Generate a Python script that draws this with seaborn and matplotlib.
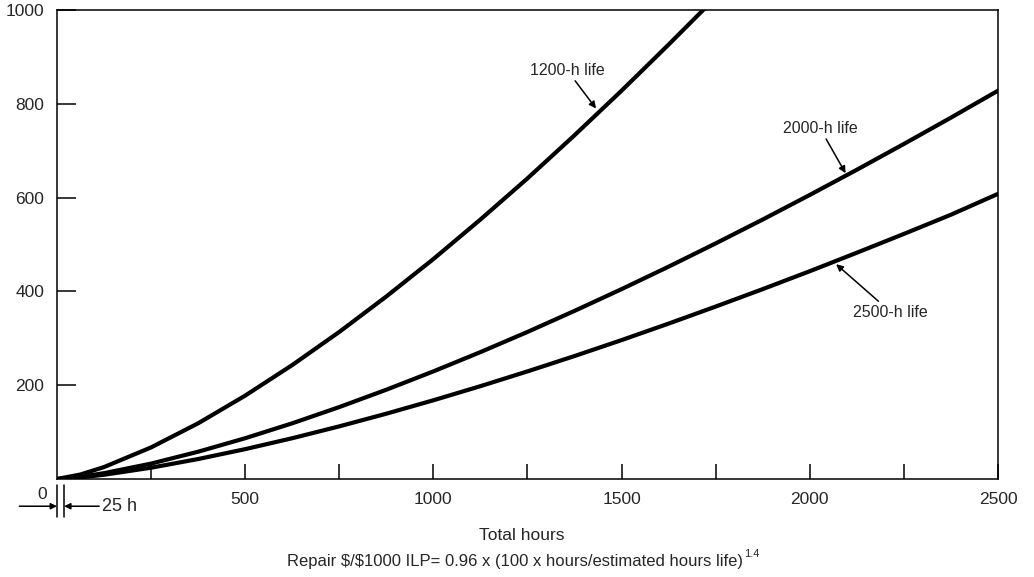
import matplotlib
matplotlib.use("Agg")
import matplotlib.pyplot as plt
import matplotlib.transforms as mtransforms
import seaborn as sns
import pandas as pd

# values (repair $ per $1000 ILP vs total hours)
hours = [0, 62, 125, 250, 375, 500, 625, 750, 875, 1000, 1125, 1250, 1375,
         1500, 1625, 1750, 1875, 2000, 2125, 2250, 2375, 2500]
hours_1200 = [0, 62, 125, 250, 375, 500, 625, 750, 875, 1000, 1125, 1250, 1375,
              1500, 1625, 1750]
repair_1200 = [0, 9.6, 25.5, 67.4, 118.8, 177.8, 243.0, 313.6, 389.2, 469.0,
               553.3, 641.0, 733.0, 828.0, 926.3, 1026.8]
repair_2000 = [0, 4.7, 12.5, 32.9, 58.2, 87.0, 118.8, 153.4, 190.4, 229.5,
               270.6, 313.6, 358.5, 404.9, 452.8, 502.4, 553.3, 605.7, 659.4,
               714.4, 770.5, 828.0]
repair_2500 = [0, 3.4, 9.1, 24.1, 42.6, 63.7, 87.0, 112.3, 139.3, 167.9,
               198.0, 229.5, 262.2, 296.2, 331.4, 367.7, 404.9, 443.1, 482.5,
               522.6, 563.5, 608.0]
life_labels = ["1200-h life", "2000-h life", "2500-h life"]
x_ticks = [500, 1000, 1500, 2000, 2500]
y_ticks = [200, 400, 600, 800, 1000]

df = pd.concat([
    pd.DataFrame({"hours": hours_1200, "repair": repair_1200, "life": life_labels[0]}),
    pd.DataFrame({"hours": hours, "repair": repair_2000, "life": life_labels[1]}),
    pd.DataFrame({"hours": hours, "repair": repair_2500, "life": life_labels[2]}),
])

sns.set_style("white")
plt.rcParams["font.family"] = ["Liberation Sans", "DejaVu Sans"]

fig = plt.figure(figsize=(10.34, 5.77), dpi=100)
ax = fig.add_axes([0.0551, 0.1698, 0.9101, 0.8129])

sns.lineplot(data=df, x="hours", y="repair", hue="life", estimator=None,
             palette=["black"] * 3, linewidth=3.0, legend=False, ax=ax,
             sort=False, solid_joinstyle="round")

ax.set_xlim(0, 2500)
ax.set_ylim(0, 1000)
ax.set_xticks(x_ticks)
ax.set_xticks(range(250, 2500, 250), minor=True)
ax.set_yticks(y_ticks)
ax.tick_params(axis="x", which="both", direction="in", length=11, width=1.1,
               labelsize=12.5, pad=9, color="black", bottom=True)
ax.tick_params(axis="y", which="both", direction="in", length=14, width=1.1,
               labelsize=12.5, pad=9, color="black", left=True)
ax.set_xlabel("")
ax.set_ylabel("")
for s in ax.spines.values():
    s.set_color("black")
    s.set_linewidth(1.1)

arrow = dict(arrowstyle="-|>", color="black", lw=1.1, mutation_scale=10,
             shrinkA=0, shrinkB=0)
ax.annotate("1200-h life", xy=(1432, 790), xytext=(1355, 872), fontsize=11.5,
            ha="center", va="center", arrowprops=arrow)
ax.annotate("2000-h life", xy=(2095, 652), xytext=(2027, 748), fontsize=11.5,
            ha="center", va="center", arrowprops=arrow)
ax.annotate("2500-h life", xy=(2070, 458), xytext=(2215, 356), fontsize=11.5,
            ha="center", va="center", arrowprops=arrow)

# 0 / 25 h marker under the axis
trans = mtransforms.blended_transform_factory(ax.transData, ax.transAxes)
ax.text(-40, -0.032, "0", transform=trans, fontsize=12.5, ha="center", va="center")
for xv in (0, 19):
    ax.plot([xv, xv], [-0.012, -0.082], transform=trans, color="black",
            lw=1.1, clip_on=False)
small = dict(arrowstyle="-|>", color="black", lw=1.1, mutation_scale=9,
             shrinkA=0, shrinkB=0)
ax.annotate("", xy=(0, -0.058), xytext=(-100, -0.058), xycoords=trans,
            textcoords=trans, arrowprops=small)
ax.annotate("", xy=(19, -0.058), xytext=(112, -0.058), xycoords=trans,
            textcoords=trans, arrowprops=small)
ax.text(120, -0.058, "25 h", transform=trans, fontsize=13, ha="left", va="center")

fig.text(0.505, 0.072, "Total hours", fontsize=12.5, ha="center", va="center")
formula = fig.text(0.498, 0.026,
                   r"Repair \$/\$1000 ILP= 0.96 x (100 x hours/estimated hours life)",
                   fontsize=12, ha="center", va="center")
fig.canvas.draw()
bb = formula.get_window_extent().transformed(fig.transFigure.inverted())
fig.text(bb.x1 + 0.001, 0.040, "1.4", fontsize=8, ha="left", va="center")

fig.savefig("out.png", dpi=100)
